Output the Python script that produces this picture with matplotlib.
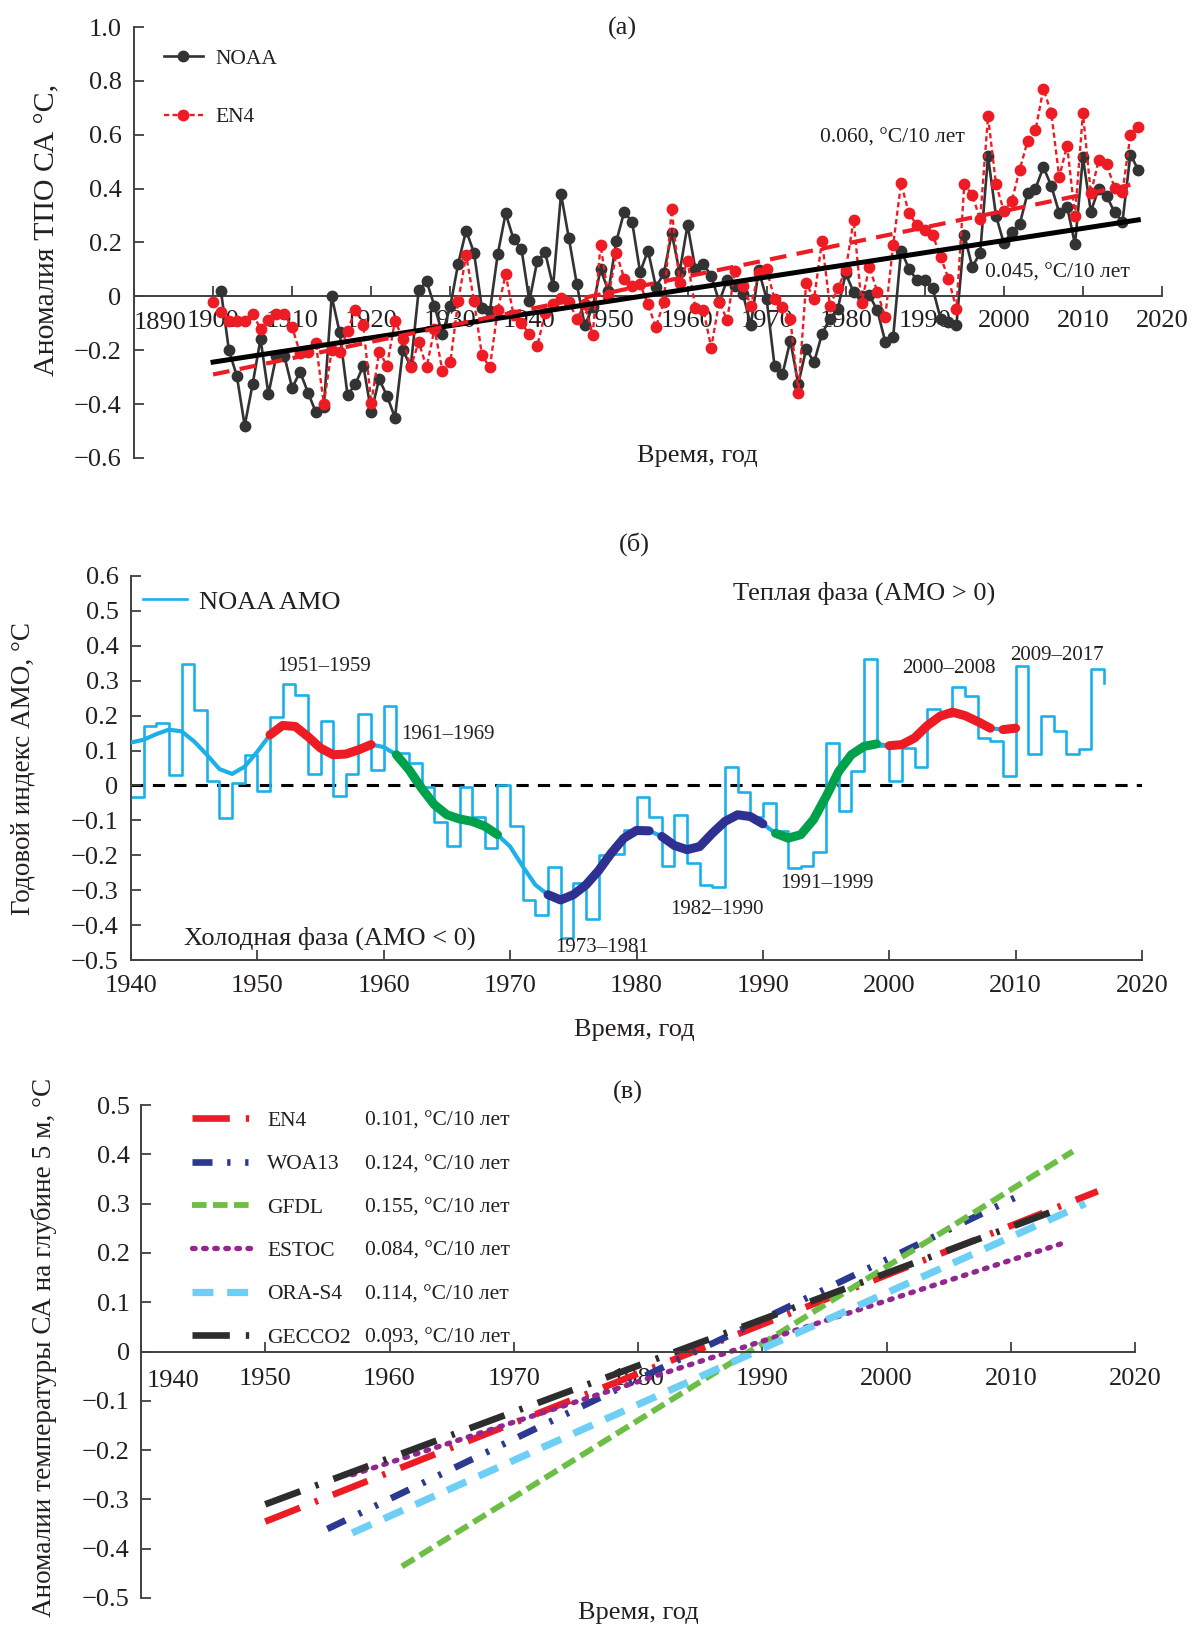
import matplotlib
matplotlib.use('Agg')
import matplotlib.pyplot as plt
from matplotlib.lines import Line2D
from matplotlib.ticker import FuncFormatter
import numpy as np

plt.rcParams['font.family'] = ['Liberation Serif', 'DejaVu Serif']
plt.rcParams['text.color'] = '#231f20'

# ---- (а) SST anomalies of the North Atlantic ----
en4_years = np.arange(1900, 2018)
en4_sst = [-0.02, -0.058, -0.09, -0.093, -0.09, -0.065, -0.12, -0.086, -0.065, -0.065,
           -0.115, -0.21, -0.208, -0.173, -0.40, -0.20, -0.205, -0.127, -0.05, -0.106,
           -0.397, -0.205, -0.257, -0.09, -0.158, -0.264, -0.168, -0.264, -0.12, -0.276,
           -0.245, -0.017, 0.153, -0.017, -0.218, -0.264, -0.05, 0.082, -0.07, -0.10,
           -0.14, -0.185, -0.06, -0.03, -0.006, -0.02, -0.083, -0.03, -0.143, 0.19,
           0.0, 0.16, 0.066, 0.04, 0.047, -0.03, -0.115, -0.02, 0.323, 0.05,
           0.13, -0.044, -0.05, -0.19, -0.02, -0.087, 0.093, 0.04, -0.034, 0.085,
           0.10, -0.01, -0.04, -0.083, -0.357, 0.05, -0.01, 0.205, -0.034, 0.03,
           0.097, 0.284, -0.024, 0.11, 0.016, -0.077, 0.19, 0.42, 0.308, 0.265,
           0.246, 0.228, 0.147, 0.066, -0.046, 0.417, 0.377, 0.286, 0.669, 0.417,
           0.317, 0.354, 0.47, 0.576, 0.616, 0.771, 0.68, 0.443, 0.56, 0.30,
           0.68, 0.383, 0.505, 0.49, 0.404, 0.387, 0.598, 0.629]

noaa_years = np.arange(1901, 2018)
noaa_sst = [0.02, -0.2, -0.295, -0.48, -0.326, -0.158, -0.363, -0.22, -0.22,
            -0.34, -0.28, -0.357, -0.43, -0.41, 0.0, -0.133, -0.366, -0.326, -0.257,
            -0.43, -0.307, -0.37, -0.45, -0.2, -0.26, 0.022, 0.056, -0.036, -0.14,
            -0.036, 0.122, 0.244, 0.162, -0.044, -0.056, 0.157, 0.308, 0.212, 0.175,
            -0.017, 0.132, 0.163, 0.037, 0.38, 0.215, 0.045, -0.108, -0.04, 0.1,
            0.02, 0.205, 0.315, 0.275, 0.09, 0.17, 0.035, 0.085, 0.234, 0.09,
            0.265, 0.10, 0.12, 0.076, -0.02, 0.06, 0.04, 0.01, -0.108, 0.097,
            -0.01, -0.257, -0.29, -0.164, -0.326, -0.195, -0.245, -0.14, -0.083, -0.046,
            0.085, 0.016, 0.0, 0.004, -0.052, -0.168, -0.152, 0.17, 0.103, 0.06,
            0.06, 0.03, -0.083, -0.096, -0.108, 0.228, 0.11, 0.16, 0.52, 0.30,
            0.197, 0.24, 0.267, 0.383, 0.40, 0.48, 0.41, 0.31, 0.333, 0.193,
            0.516, 0.315, 0.40, 0.373, 0.312, 0.277, 0.526, 0.47]

noaa_trend_years = [1900, 2017]
noaa_trend = [-0.244, 0.284]
en4_trend_years = [1900, 2016]
en4_trend = [-0.29, 0.414]

# ---- (б) AMO index ----
amo_years = np.arange(1940, 2018)
amo = [-0.034, 0.171, 0.18, 0.03, 0.348, 0.216, 0.012, -0.093, 0.006, 0.087,
       -0.015, 0.197, 0.29, 0.258, 0.034, 0.185, -0.03, 0.032, 0.206, 0.044,
       0.227, 0.092, 0.063, -0.003, -0.106, -0.173, -0.004, -0.09, -0.18, 0.0,
       -0.116, -0.327, -0.372, -0.233, -0.438, -0.28, -0.383, -0.2, -0.195, -0.127,
       -0.033, -0.09, -0.23, -0.084, -0.223, -0.285, -0.29, 0.054, -0.02, -0.09,
       -0.05, -0.13, -0.237, -0.23, -0.19, 0.121, -0.072, 0.04, 0.362, 0.112,
       0.014, 0.107, 0.054, 0.219, 0.2, 0.282, 0.257, 0.136, 0.126, 0.028,
       0.341, 0.091, 0.2, 0.155, 0.091, 0.104, 0.334, 0.293]

smooth_years = np.arange(1940, 2011)
amo_smooth = [0.123, 0.131, 0.147, 0.16, 0.155, 0.126, 0.088, 0.047, 0.033, 0.054,
              0.097, 0.145, 0.172, 0.169, 0.14, 0.107, 0.088, 0.09, 0.102, 0.117,
              0.11, 0.088, 0.045, -0.008, -0.055, -0.084, -0.096, -0.103, -0.117, -0.141,
              -0.175, -0.232, -0.285, -0.313, -0.328, -0.313, -0.285, -0.244, -0.194, -0.151,
              -0.129, -0.13, -0.146, -0.172, -0.184, -0.175, -0.137, -0.103, -0.084, -0.089,
              -0.11, -0.137, -0.151, -0.141, -0.098, -0.032, 0.04, 0.088, 0.112, 0.119,
              0.114, 0.117, 0.136, 0.171, 0.198, 0.21, 0.2, 0.183, 0.164, 0.16, 0.164]

phase_periods = [(1951, 1959), (1961, 1969), (1973, 1981), (1982, 1990),
                 (1991, 1999), (2000, 2008), (2009, 2010)]
phase_colors = ['#ed1c24', '#00a14b', '#2e3192', '#2e3192', '#00a14b', '#ed1c24', '#ed1c24']

period_labels = ['1951–1959', '1961–1969', '1973–1981', '1982–1990',
                 '1991–1999', '2000–2008', '2009–2017']
period_label_x = [1955.3, 1965.1, 1977.3, 1986.4, 1995.1, 2004.7, 2013.3]
period_label_y = [0.342, 0.145, -0.463, -0.354, -0.28, 0.334, 0.371]

# ---- (в) linear trends at 5 m ----
sets = ['EN4', 'WOA13', 'GFDL', 'ESTOC', 'ORA-S4', 'GECCO2']
rates = ['0.101', '0.124', '0.155', '0.084', '0.114', '0.093']
trend_years = [(1950, 2017), (1955, 2011), (1961, 2015), (1957, 2014), (1957, 2016), (1950, 2014)]
trend_vals = [(-0.345, 0.325), (-0.36, 0.32), (-0.436, 0.406), (-0.25, 0.218), (-0.368, 0.30), (-0.31, 0.29)]
set_colors = ['#ed1c24', '#2b3990', '#6cbe45', '#92278f', '#6dcff6', '#2d2d2d']
set_widths = [4.8, 4.8, 4.2, 3.8, 5.2, 4.8]
set_dashes = [(5.6, 2.4, 0.5, 2.4), (3.0, 2.2, 0.5, 2.2, 0.5, 2.2), (2.5, 1.1),
              (0.5, 1.6), (2.9, 1.9), (5.6, 2.4, 0.5, 2.4)]

W, H = 1192, 1627
fig = plt.figure(figsize=(W / 100, H / 100), dpi=100)


def px_axes(l, r, t, b):
    return fig.add_axes([l / W, 1 - b / H, (r - l) / W, (b - t) / H])


def ftext(x, y, s, **kw):
    fig.text(x / W, 1 - y / H, s, ha='center', va='center', **kw)


def fmt(v, pos):
    if abs(v) < 1e-9:
        return '0'
    return ('%.1f' % v).replace('-', '−')


def style(ax, zero_axis):
    for s in ('top', 'right'):
        ax.spines[s].set_visible(False)
    for s in ('left', 'bottom'):
        ax.spines[s].set_color('#404040')
        ax.spines[s].set_linewidth(1.4)
    if zero_axis:
        ax.spines['bottom'].set_position(('data', 0))
    ax.tick_params(direction='in', length=7, width=1.3, color='#404040',
                   labelsize=19, labelcolor='#231f20')
    ax.tick_params(axis='y', pad=9)
    ax.yaxis.set_major_formatter(FuncFormatter(fmt))


# (а)
ax1 = px_axes(134, 1162, 27, 458)
style(ax1, True)
ax1.plot(noaa_years, noaa_sst, '-o', color='#333333', lw=1.9, ms=7.5, label='NOAA', zorder=3)
ax1.plot(en4_years, en4_sst, ls=(0, (2.2, 1.4)), marker='o', color='#ed1c24', lw=1.7,
         ms=7.5, label='EN4', zorder=4)
ax1.plot(noaa_trend_years, noaa_trend, color='black', lw=3.6, zorder=5)
ax1.plot(en4_trend_years, en4_trend, color='#ed1c24', lw=3.0, ls=(0, (4, 2.5)), zorder=5)
ax1.set_xlim(1890, 2020)
ax1.set_ylim(-0.6, 1.0)
ax1.set_yticks(np.arange(-0.6, 1.01, 0.2))
ax1.set_xticks(np.arange(1890, 2021, 10))
ax1.set_xticklabels([''] + [str(y) for y in range(1900, 2021, 10)])
ax1.tick_params(axis='x', pad=10)
ax1.annotate('1890', xy=(1890, 0), xytext=(19, -19.5), textcoords='offset points',
             ha='center', va='center', fontsize=19)
ax1.legend(loc='upper left', bbox_to_anchor=(0.029, 0.95), frameon=False, fontsize=15.5,
           handlelength=1.8, handletextpad=0.6, labelspacing=1.8, borderpad=0, borderaxespad=0)
ax1.text(1985.9, 0.588, '0.060, °C/10 лет', ha='center', va='center', fontsize=15.5)
ax1.text(2006.8, 0.085, '0.045, °C/10 лет', ha='center', va='center', fontsize=15.5)
ftext(622, 28, '(а)', fontsize=19)
ftext(697, 456, 'Время, год', fontsize=19)
ftext(47, 230, 'Аномалия ТПО СА °C,', fontsize=21.5, rotation=90)

# (б)
ax2 = px_axes(131, 1142, 576, 960)
style(ax2, False)
ax2.axhline(0, color='black', lw=2.2, ls=(0, (4, 3)), zorder=1)
ax2.step(amo_years, amo, where='post', color='#1cb0e8', lw=1.9, label='NOAA AMO', zorder=2)
ax2.plot(smooth_years, amo_smooth, color='#1cb0e8', lw=3.0, zorder=3)
for (y0, y1), c in zip(phase_periods, phase_colors):
    m = (smooth_years >= y0) & (smooth_years <= y1)
    ax2.plot(smooth_years[m], np.array(amo_smooth)[m], color=c, lw=6.5,
             solid_capstyle='round', zorder=4)
for s, x, y in zip(period_labels, period_label_x, period_label_y):
    ax2.text(x, y, s, ha='center', va='center', fontsize=15)
ax2.text(1998, 0.551, 'Теплая фаза (АМО > 0)', ha='center', va='center', fontsize=19)
ax2.text(1955.7, -0.437, 'Холодная фаза (АМО < 0)', ha='center', va='center', fontsize=19)
ax2.set_xlim(1940, 2020)
ax2.set_ylim(-0.5, 0.6)
ax2.set_yticks(np.arange(-0.5, 0.61, 0.1))
ax2.set_xticks(np.arange(1940, 2021, 10))
ax2.tick_params(axis='x', pad=11)
ax2.legend(loc='upper left', bbox_to_anchor=(0.012, 0.963), frameon=False, fontsize=19,
           handlelength=1.67, handletextpad=0.45, borderpad=0, borderaxespad=0)
ftext(634, 544, '(б)', fontsize=19)
ftext(634, 1030, 'Время, год', fontsize=19)
ftext(23, 768, 'Годовой индекс АМО, °С', fontsize=19.5, rotation=90)

# (в)
ax3 = px_axes(141, 1135, 1105, 1598)
style(ax3, True)
ax3.tick_params(axis='y', pad=8)
handles = []
for name, yrs, vals, c, lw, d in zip(sets, trend_years, trend_vals, set_colors, set_widths, set_dashes):
    ln, = ax3.plot(yrs, vals, color=c, lw=lw, dashes=d, label=name,
                   dash_capstyle='round' if name == 'ESTOC' else 'butt')
    handles.append(ln)
ax3.set_xlim(1940, 2020)
ax3.set_ylim(-0.5, 0.5)
ax3.set_yticks(np.arange(-0.5, 0.51, 0.1))
ax3.set_xticks(np.arange(1940, 2021, 10))
ax3.set_xticklabels([''] + [str(y) for y in range(1950, 2021, 10)])
ax3.tick_params(axis='x', pad=12)
ax3.annotate('1940', xy=(1940, 0), xytext=(23, -21.5), textcoords='offset points',
             ha='center', va='center', fontsize=19)
leg1 = ax3.legend(handles, sets, loc='upper left', bbox_to_anchor=(0.0513, 0.988), frameon=False,
                  fontsize=15.5, handlelength=2.9, handletextpad=0.6, labelspacing=1.08,
                  borderpad=0, borderaxespad=0)
ax3.add_artist(leg1)
blank = [Line2D([], [], ls='none') for _ in rates]
ax3.legend(blank, [r + ', °C/10 лет' for r in rates], loc='upper left',
           bbox_to_anchor=(0.2254, 0.988), frameon=False, fontsize=15.5, handlelength=0,
           handletextpad=0, labelspacing=1.08, borderpad=0, borderaxespad=0)
ftext(628, 1092, '(в)', fontsize=19)
ftext(638, 1613, 'Время, год', fontsize=19)
ftext(44, 1347, 'Аномалии температуры СА на глубине 5 м, °С', fontsize=19.6, rotation=90)

fig.savefig('out.png', dpi=100)
